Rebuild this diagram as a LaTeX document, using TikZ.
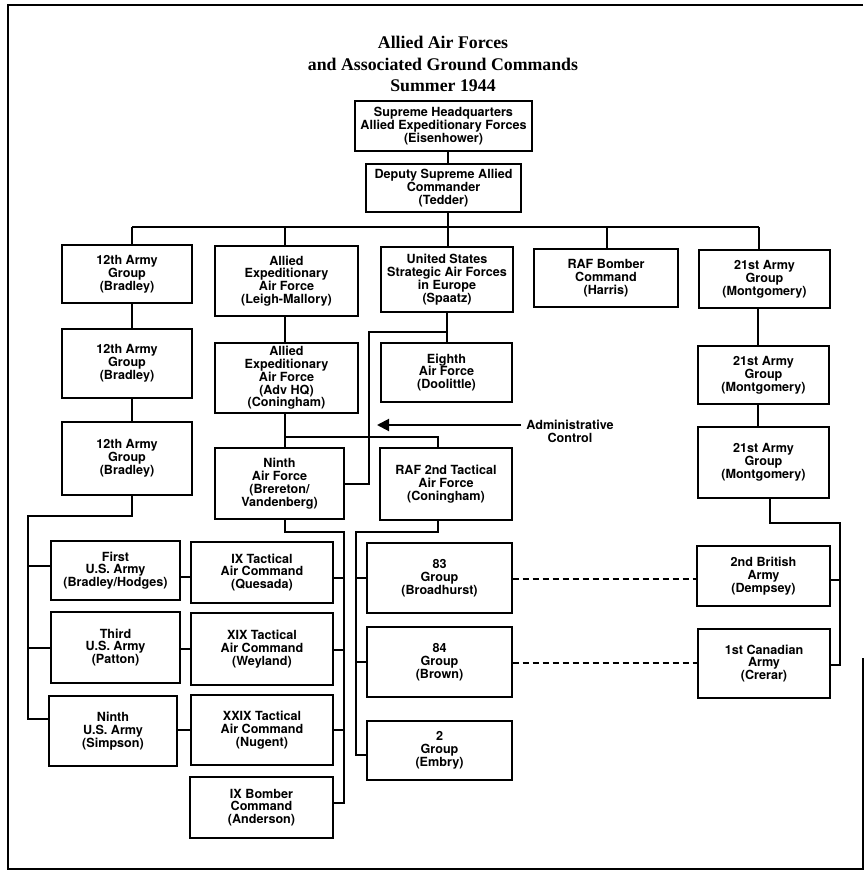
\documentclass[tikz,border=0pt]{standalone}
\usepackage{fontspec}
\setmainfont{TeX Gyre Heros}
\newfontfamily\titlefont{Liberation Serif}
\usetikzlibrary{arrows.meta}
\tikzset{
  box/.style={draw, line width=1.3pt, rectangle, inner sep=0pt, align=center,
    font=\bfseries\fontsize{12.6}{12.8}\selectfont},
  conn/.style={line width=2pt},
  dash link/.style={line width=1.5pt, dash pattern=on 6pt off 4pt},
  frame line/.style={line width=1.6pt}
}
\begin{document}
\begin{tikzpicture}[x=1pt,y=-1pt]
\useasboundingbox (0,0) rectangle (864,875);
% frame
\draw[frame line] (863,5) -- (8,5) -- (8,869) -- (863,869) -- (863,658);
% title
\node[font=\titlefont\bfseries\fontsize{17.8}{21.5}\selectfont, align=center] (title) at (443,64)
  {Allied Air Forces\\and Associated Ground Commands\\Summer 1944};
% boxes
\node[box, minimum width=177pt, minimum height=50pt] (shaef) at (443.5,126) {Supreme Headquarters\\Allied Expeditionary Forces\\(Eisenhower)};
\node[box, minimum width=155pt, minimum height=48pt] (deputy) at (443.5,188) {Deputy Supreme Allied\\Commander\\(Tedder)};
\node[box, minimum width=130pt, minimum height=58pt] (ag12a) at (127,274) {12th Army\\Group\\(Bradley)};
\node[box, minimum width=130pt, minimum height=69pt] (ag12b) at (127,363.5) {12th Army\\Group\\(Bradley)};
\node[box, minimum width=130pt, minimum height=73pt] (ag12c) at (127,458.5) {12th Army\\Group\\(Bradley)};
\node[box, minimum width=143pt, minimum height=70pt] (aeaf) at (286.5,281) {Allied\\Expeditionary\\Air Force\\(Leigh-Mallory)};
\node[box, minimum width=143pt, minimum height=70pt] (aeafadv) at (286.5,378) {Allied\\Expeditionary\\Air Force\\(Adv HQ)\\(Coningham)};
\node[box, minimum width=132pt, minimum height=65pt] (usstaf) at (447,279.5) {United States\\Strategic Air Forces\\in Europe\\(Spaatz)};
\node[box, minimum width=131pt, minimum height=59pt] (eighth) at (446.5,372.5) {Eighth\\Air Force\\(Doolittle)};
\node[box, minimum width=144pt, minimum height=58pt] (bomber) at (606,278) {RAF Bomber\\Command\\(Harris)};
\node[box, minimum width=131pt, minimum height=58pt] (ag21a) at (764.5,279) {21st Army\\Group\\(Montgomery)};
\node[box, minimum width=131pt, minimum height=58pt] (ag21b) at (763.5,375) {21st Army\\Group\\(Montgomery)};
\node[box, minimum width=131pt, minimum height=71pt] (ag21c) at (763.5,462.5) {21st Army\\Group\\(Montgomery)};
\node[box, minimum width=129pt, minimum height=71pt] (ninthaf) at (279.5,483.5) {Ninth\\Air Force\\(Brereton/\\Vandenberg)};
\node[box, minimum width=132pt, minimum height=72pt] (raf2taf) at (446,484) {RAF 2nd Tactical\\Air Force\\(Coningham)};
\node[box, minimum width=129pt, minimum height=59pt] (first) at (115.5,570.5) {First\\U.S. Army\\(Bradley/Hodges)};
\node[box, minimum width=129pt, minimum height=71pt] (third) at (115.5,647.5) {Third\\U.S. Army\\(Patton)};
\node[box, minimum width=128pt, minimum height=70pt] (ninthus) at (113,731) {Ninth\\U.S. Army\\(Simpson)};
\node[box, minimum width=142pt, minimum height=61pt] (ixtac) at (262,572.5) {IX Tactical\\Air Command\\(Quesada)};
\node[box, minimum width=142pt, minimum height=72pt] (xixtac) at (262,649) {XIX Tactical\\Air Command\\(Weyland)};
\node[box, minimum width=142pt, minimum height=70pt] (xxixtac) at (262,730) {XXIX Tactical\\Air Command\\(Nugent)};
\node[box, minimum width=143pt, minimum height=61pt] (ixbomber) at (261.5,807.5) {IX Bomber\\Command\\(Anderson)};
\node[box, minimum width=145pt, minimum height=70pt] (g83) at (439.5,578) {83\\Group\\(Broadhurst)};
\node[box, minimum width=145pt, minimum height=70pt] (g84) at (439.5,662) {84\\Group\\(Brown)};
\node[box, minimum width=145pt, minimum height=59pt] (g2) at (439.5,750.5) {2\\Group\\(Embry)};
\node[box, minimum width=133pt, minimum height=60pt] (brit2) at (763.5,576) {2nd British\\Army\\(Dempsey)};
\node[box, minimum width=132pt, minimum height=69pt] (can1) at (764,663.5) {1st Canadian\\Army\\(Crerar)};
% admin label
\node[font=\bfseries\fontsize{12.6}{12.8}\selectfont, align=center] (admin) at (570,431) {Administrative\\Control};
% junction coordinates
\coordinate (cx448) at (448,227);
\coordinate (barL) at (132,227);
\coordinate (barR) at (759,227);
\coordinate (cx285) at (285,227);
\coordinate (cx607) at (607,227);
\coordinate (j437) at (285,437);
\coordinate (k437) at (438,437);
\coordinate (adm1) at (369,484);
\coordinate (adm2) at (369,332);
\coordinate (adm3) at (447,332);
\coordinate (atip) at (377,425);
\coordinate (atail) at (521,425);
\coordinate (a1) at (132,516);
\coordinate (a2) at (28,516);
\coordinate (a3) at (28,719);
\coordinate (t1) at (285,532);
\coordinate (t2) at (344,532);
\coordinate (t3) at (344,803);
\coordinate (r1) at (438,532);
\coordinate (r2) at (356,532);
\coordinate (r3) at (356,755);
\coordinate (m1) at (770,523);
\coordinate (m2) at (840,523);
\coordinate (m3) at (840,665);
% connectors
\draw[conn] (shaef.south -| cx448) -- (deputy.north -| cx448);
\draw[conn] (deputy.south -| cx448) -- (cx448);
\draw[conn] (barL) -- (barR);
\draw[conn] (barL) -- (ag12a.north -| barL);
\draw[conn] (ag12a.south -| barL) -- (ag12b.north -| barL);
\draw[conn] (ag12b.south -| barL) -- (ag12c.north -| barL);
\draw[conn] (cx285) -- (aeaf.north -| cx285);
\draw[conn] (aeaf.south -| cx285) -- (aeafadv.north -| cx285);
\draw[conn] (aeafadv.south -| cx285) -- (ninthaf.north -| cx285);
\draw[conn] (cx448) -- (usstaf.north -| cx448);
\draw[conn] (usstaf.south -| adm3) -- (eighth.north -| adm3);
\draw[conn] (cx607) -- (bomber.north -| cx607);
\draw[conn] (barR) -- (ag21a.north -| barR);
\draw[conn] (ag21a.south -| 758,0) -- (ag21b.north -| 758,0);
\draw[conn] (ag21b.south -| 758,0) -- (ag21c.north -| 758,0);
\draw[conn] (j437) -- (k437) -- (raf2taf.north -| k437);
\draw[conn] (ninthaf.east |- adm1) -- (adm1) -- (adm2) -- (adm3);
\draw[conn, -{Triangle[length=12pt,width=12pt]}] (atail) -- (atip);
% army bus
\draw[conn] (ag12c.south -| a1) -- (a1) -- (a2) -- (a3) -- (ninthus.west |- a3);
\draw[conn] (a2 |- 0,566) -- (first.west |- 0,566);
\draw[conn] (a2 |- 0,648) -- (third.west |- 0,648);
\draw[conn] (first.east |- 0,577) -- (ixtac.west |- 0,577);
\draw[conn] (third.east |- 0,649) -- (xixtac.west |- 0,649);
\draw[conn] (ninthus.east |- 0,730) -- (xxixtac.west |- 0,730);
% TAC bus
\draw[conn] (ninthaf.south -| t1) -- (t1) -- (t2) -- (t3) -- (ixbomber.east |- t3);
\draw[conn] (t2 |- 0,578) -- (ixtac.east |- 0,578);
\draw[conn] (t2 |- 0,650) -- (xixtac.east |- 0,650);
\draw[conn] (t2 |- 0,730) -- (xxixtac.east |- 0,730);
% RAF groups bus
\draw[conn] (raf2taf.south -| r1) -- (r1) -- (r2) -- (r3) -- (g2.west |- r3);
\draw[conn] (r2 |- 0,578) -- (g83.west |- 0,578);
\draw[conn] (r2 |- 0,662) -- (g84.west |- 0,662);
% 21st AG bus
\draw[conn] (ag21c.south -| m1) -- (m1) -- (m2) -- (m3) -- (can1.east |- m3);
\draw[conn] (m2 |- 0,580) -- (brit2.east |- 0,580);
% dashed links
\draw[dash link] (g83.east |- 0,579) -- (brit2.west |- 0,579);
\draw[dash link] (g84.east |- 0,663) -- (can1.west |- 0,663);
\end{tikzpicture}
\end{document}
